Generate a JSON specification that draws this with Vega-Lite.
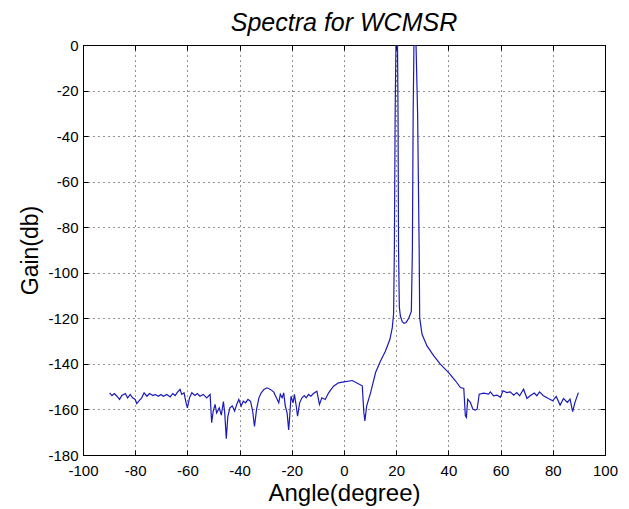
{
  "$schema": "https://vega.github.io/schema/vega-lite/v6.json",
  "width": 522,
  "height": 410,
  "autosize": {"type": "none"},
  "padding": {"left": 83, "top": 45, "right": 24, "bottom": 54},
  "background": "white",
  "title": {"text": "Spectra for WCMSR", "font": "Liberation Sans", "fontSize": 25, "fontStyle": "italic", "fontWeight": "normal", "color": "black", "offset": 2, "anchor": "middle"},
  "config": {
    "view": {"stroke": "black", "strokeWidth": 1},
    "axis": {
      "labelFont": "Liberation Sans", "labelFontSize": 15, "labelColor": "black",
      "labelExpr": "datum.value < 0 ? '-' + abs(datum.value) : '' + datum.value",
      "titleFont": "Liberation Sans", "titleFontSize": 23, "titleFontWeight": "normal", "titleColor": "black",
      "domainColor": "black", "tickColor": "black", "tickSize": -5,
      "gridColor": "black", "gridDash": [1, 4], "gridOpacity": 0.85, "gridWidth": 1
    }
  },
  "data": {"values": [
    {"angle": -89.8, "gain": -152.7}, {"angle": -88.9, "gain": -153.9}, {"angle": -88.0, "gain": -153.0}, {"angle": -87.0, "gain": -154.2},
    {"angle": -86.0, "gain": -155.6}, {"angle": -85.1, "gain": -153.9}, {"angle": -83.8, "gain": -153.0}, {"angle": -82.9, "gain": -154.9},
    {"angle": -81.9, "gain": -153.4}, {"angle": -81.0, "gain": -154.9}, {"angle": -80.0, "gain": -155.6}, {"angle": -79.4, "gain": -157.4},
    {"angle": -78.3, "gain": -155.9}, {"angle": -77.5, "gain": -154.9}, {"angle": -76.6, "gain": -152.7}, {"angle": -75.5, "gain": -154.2},
    {"angle": -74.5, "gain": -153.0}, {"angle": -73.2, "gain": -153.9}, {"angle": -72.4, "gain": -153.4}, {"angle": -71.1, "gain": -154.2},
    {"angle": -70.2, "gain": -153.4}, {"angle": -69.2, "gain": -154.2}, {"angle": -67.9, "gain": -153.4}, {"angle": -66.6, "gain": -154.5},
    {"angle": -65.6, "gain": -153.0}, {"angle": -64.7, "gain": -153.9}, {"angle": -63.8, "gain": -152.4}, {"angle": -62.8, "gain": -151.2},
    {"angle": -62.2, "gain": -153.4}, {"angle": -61.3, "gain": -152.7}, {"angle": -60.5, "gain": -157.1}, {"angle": -60.0, "gain": -159.3},
    {"angle": -59.2, "gain": -154.9}, {"angle": -58.3, "gain": -152.7}, {"angle": -57.1, "gain": -153.9}, {"angle": -56.2, "gain": -153.0},
    {"angle": -55.2, "gain": -154.2}, {"angle": -53.9, "gain": -153.4}, {"angle": -52.6, "gain": -154.9}, {"angle": -51.3, "gain": -153.4},
    {"angle": -50.7, "gain": -165.8}, {"angle": -50.1, "gain": -160.7}, {"angle": -49.4, "gain": -157.8}, {"angle": -48.8, "gain": -161.5},
    {"angle": -47.8, "gain": -159.3}, {"angle": -47.0, "gain": -162.5}, {"angle": -46.2, "gain": -156.5}, {"angle": -45.7, "gain": -161.5},
    {"angle": -45.1, "gain": -172.8}, {"angle": -44.5, "gain": -163.0}, {"angle": -43.7, "gain": -159.3}, {"angle": -42.8, "gain": -158.5},
    {"angle": -41.9, "gain": -160.7}, {"angle": -41.1, "gain": -157.8}, {"angle": -40.3, "gain": -155.6}, {"angle": -39.4, "gain": -158.5},
    {"angle": -38.6, "gain": -156.4}, {"angle": -37.7, "gain": -157.1}, {"angle": -36.8, "gain": -155.6}, {"angle": -35.8, "gain": -156.4},
    {"angle": -35.0, "gain": -160.7}, {"angle": -34.3, "gain": -167.5}, {"angle": -33.5, "gain": -160.0}, {"angle": -32.6, "gain": -154.9},
    {"angle": -31.7, "gain": -152.7}, {"angle": -30.7, "gain": -151.2}, {"angle": -29.5, "gain": -150.5}, {"angle": -28.2, "gain": -151.2},
    {"angle": -26.9, "gain": -152.4}, {"angle": -25.9, "gain": -154.9}, {"angle": -25.0, "gain": -157.1}, {"angle": -24.4, "gain": -153.4},
    {"angle": -23.7, "gain": -154.9}, {"angle": -23.1, "gain": -152.7}, {"angle": -22.5, "gain": -158.5}, {"angle": -21.8, "gain": -161.5},
    {"angle": -21.2, "gain": -169.0}, {"angle": -20.8, "gain": -162.9}, {"angle": -20.3, "gain": -154.2}, {"angle": -19.5, "gain": -157.1},
    {"angle": -19.0, "gain": -153.4}, {"angle": -18.3, "gain": -158.5}, {"angle": -17.8, "gain": -163.0}, {"angle": -17.0, "gain": -157.1},
    {"angle": -16.1, "gain": -154.9}, {"angle": -15.2, "gain": -153.9}, {"angle": -14.5, "gain": -154.9}, {"angle": -13.6, "gain": -153.4},
    {"angle": -12.7, "gain": -154.2}, {"angle": -11.7, "gain": -153.0}, {"angle": -10.4, "gain": -152.0}, {"angle": -9.4, "gain": -157.8},
    {"angle": -8.5, "gain": -154.9}, {"angle": -7.2, "gain": -155.6}, {"angle": -5.9, "gain": -152.7}, {"angle": -4.0, "gain": -149.8},
    {"angle": -2.1, "gain": -148.3}, {"angle": 0.0, "gain": -147.9}, {"angle": 3.2, "gain": -147.3}, {"angle": 5.1, "gain": -148.5},
    {"angle": 7.0, "gain": -149.6}, {"angle": 7.6, "gain": -161.3}, {"angle": 8.0, "gain": -165.0}, {"angle": 8.7, "gain": -158.4},
    {"angle": 10.2, "gain": -152.6}, {"angle": 12.1, "gain": -143.8}, {"angle": 14.0, "gain": -138.7}, {"angle": 15.9, "gain": -134.3},
    {"angle": 17.6, "gain": -129.2}, {"angle": 18.5, "gain": -124.1}, {"angle": 19.0, "gain": -118.0}, {"angle": 19.3, "gain": -90.0},
    {"angle": 19.6, "gain": -30.0}, {"angle": 19.9, "gain": 0.0}, {"angle": 20.5, "gain": 0.0}, {"angle": 20.7, "gain": -30.0},
    {"angle": 20.9, "gain": -90.0}, {"angle": 21.2, "gain": -115.0}, {"angle": 21.6, "gain": -119.0}, {"angle": 22.3, "gain": -121.5},
    {"angle": 23.0, "gain": -122.2}, {"angle": 23.8, "gain": -121.8}, {"angle": 24.8, "gain": -120.0}, {"angle": 25.8, "gain": -117.0},
    {"angle": 26.2, "gain": -90.0}, {"angle": 26.5, "gain": -30.0}, {"angle": 26.8, "gain": 0.0}, {"angle": 27.6, "gain": 0.0},
    {"angle": 28.2, "gain": -30.0}, {"angle": 28.8, "gain": -90.0}, {"angle": 29.0, "gain": -119.7}, {"angle": 29.9, "gain": -127.0},
    {"angle": 31.8, "gain": -132.1}, {"angle": 34.4, "gain": -136.5}, {"angle": 36.9, "gain": -140.1}, {"angle": 40.1, "gain": -143.8},
    {"angle": 42.7, "gain": -147.4}, {"angle": 44.6, "gain": -150.4}, {"angle": 45.9, "gain": -150.8}, {"angle": 46.5, "gain": -162.8},
    {"angle": 46.9, "gain": -163.5}, {"angle": 47.4, "gain": -155.5}, {"angle": 48.4, "gain": -156.9}, {"angle": 49.4, "gain": -159.9},
    {"angle": 50.3, "gain": -160.3}, {"angle": 51.0, "gain": -159.9}, {"angle": 51.8, "gain": -153.3}, {"angle": 53.5, "gain": -152.8},
    {"angle": 55.4, "gain": -153.3}, {"angle": 56.1, "gain": -152.3}, {"angle": 57.3, "gain": -154.0}, {"angle": 58.6, "gain": -153.7},
    {"angle": 59.9, "gain": -154.7}, {"angle": 60.9, "gain": -151.8}, {"angle": 62.4, "gain": -152.6}, {"angle": 63.7, "gain": -152.3},
    {"angle": 65.0, "gain": -153.7}, {"angle": 66.2, "gain": -152.6}, {"angle": 67.3, "gain": -154.0}, {"angle": 68.8, "gain": -151.1},
    {"angle": 70.1, "gain": -155.2}, {"angle": 71.3, "gain": -154.0}, {"angle": 72.9, "gain": -152.8}, {"angle": 73.9, "gain": -154.0},
    {"angle": 74.9, "gain": -152.3}, {"angle": 76.4, "gain": -154.0}, {"angle": 78.3, "gain": -155.2}, {"angle": 80.0, "gain": -156.2},
    {"angle": 81.3, "gain": -154.3}, {"angle": 82.8, "gain": -158.1}, {"angle": 84.1, "gain": -155.2}, {"angle": 85.6, "gain": -156.9},
    {"angle": 86.6, "gain": -155.5}, {"angle": 87.6, "gain": -161.0}, {"angle": 88.5, "gain": -156.9}, {"angle": 89.8, "gain": -152.6}
  ]},
  "layer": [
    {
      "mark": {"type": "line", "color": "#1a1ab8", "strokeWidth": 1.2, "clip": true},
      "encoding": {
        "x": {"field": "angle", "type": "quantitative", "scale": {"domain": [-100, 100], "nice": false, "zero": false},
              "axis": {"title": "Angle(degree)", "titleFontSize": 24, "values": [-100, -80, -60, -40, -20, 0, 20, 40, 60, 80, 100], "labelPadding": 13, "titlePadding": 3, "labelFlush": false}},
        "y": {"field": "gain", "type": "quantitative", "scale": {"domain": [-180, 0], "nice": false, "zero": false},
              "axis": {"title": "Gain(db)", "values": [-180, -160, -140, -120, -100, -80, -60, -40, -20, 0], "labelPadding": 10, "titlePadding": 5, "labelFlush": false}},
        "order": {"field": "angle"}
      }
    },
    {
      "mark": {"type": "point", "opacity": 0},
      "encoding": {
        "x": {"field": "angle", "type": "quantitative", "scale": {"domain": [-100, 100], "nice": false, "zero": false},
              "axis": {"orient": "top", "title": null, "labels": false, "grid": false, "values": [-100, -80, -60, -40, -20, 0, 20, 40, 60, 80, 100]}},
        "y": {"field": "gain", "type": "quantitative", "scale": {"domain": [-180, 0], "nice": false, "zero": false},
              "axis": {"orient": "right", "title": null, "labels": false, "grid": false, "values": [-180, -160, -140, -120, -100, -80, -60, -40, -20, 0]}}
      }
    }
  ],
  "resolve": {"axis": {"x": "independent", "y": "independent"}}
}
